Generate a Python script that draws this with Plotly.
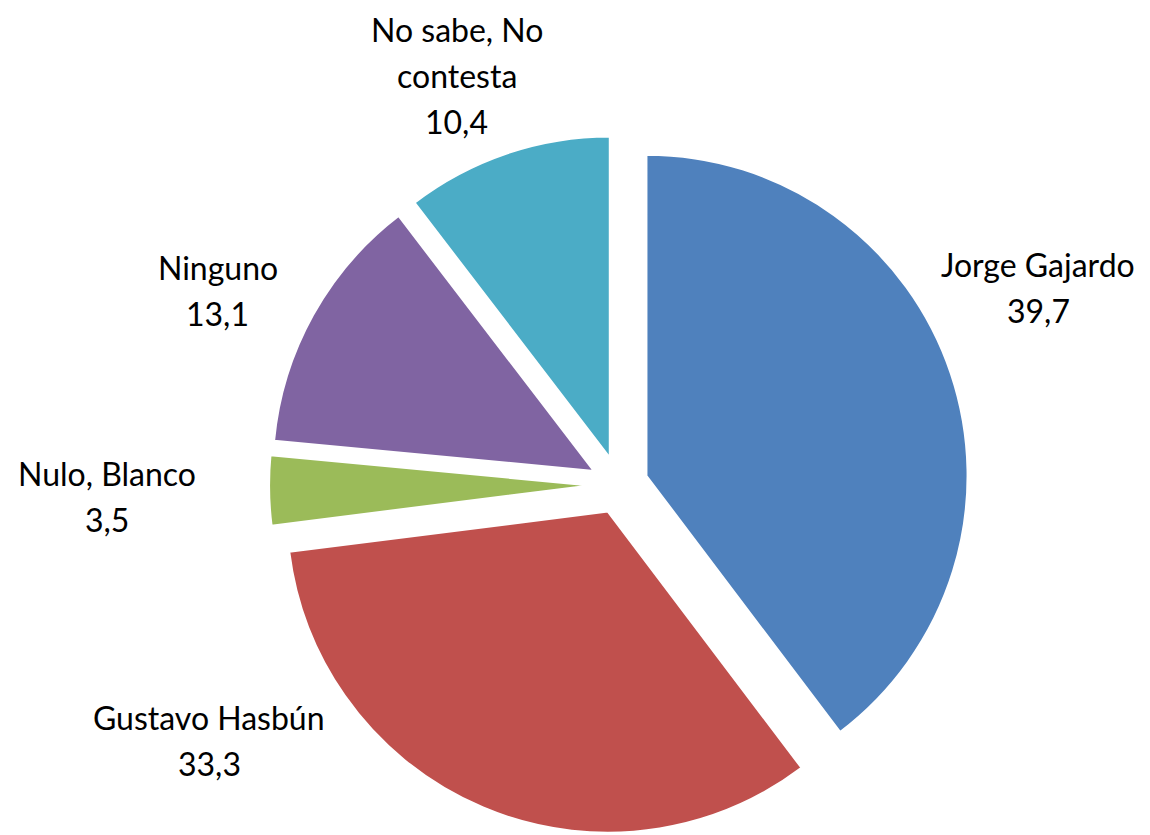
import plotly.graph_objects as go

# ── Data ──────────────────────────────────────────────────────────────────────
labels = ["Jorge Gajardo", "Gustavo Hasbún", "Nulo, Blanco", "Ninguno", "No sabe, No contesta"]
values = [39.7, 33.3, 3.5, 13.1, 10.4]
label_lines = [["Jorge Gajardo"], ["Gustavo Hasbún"], ["Nulo, Blanco"], ["Ninguno"], ["No sabe, No", "contesta"]]
colors = ["#4F81BD", "#C0504D", "#9BBB59", "#8064A2", "#4BACC6"]

# label block centres (paper coords), one per slice
label_pos = [(0.8957, 0.6677), (0.1748, 0.1257), (0.0865, 0.4168), (0.1826, 0.6641), (0.3904, 0.9210)]
LINE_GAP = 46  # px between text lines

fig = go.Figure()
fig.add_trace(go.Pie(
    labels=labels, values=values,
    sort=False, direction="clockwise", rotation=0,
    pull=[0.09] * len(values),
    marker=dict(colors=colors, line=dict(color="white", width=2)),
    textinfo="none", hoverinfo="label+value",
    domain=dict(x=[0.227, 0.8357], y=[0.0096, 0.848]),
    showlegend=False,
))

# ── Outside labels, one annotation per text line ──────────────────────────────
for lines, v, (px, py) in zip(label_lines, values, label_pos):
    rows = lines + [str(v).replace(".", ",")]
    n = len(rows)
    for i, row in enumerate(rows):
        fig.add_annotation(
            x=px, y=py, xref="paper", yref="paper",
            xanchor="center", yanchor="middle",
            yshift=((n - 1) / 2 - i) * LINE_GAP - 2,
            text=row, showarrow=False,
            font=dict(size=32, color="black", family="Lato, sans-serif"),
        )

fig.update_layout(
    width=1150, height=835,
    margin=dict(l=0, r=0, t=0, b=0),
    paper_bgcolor="white", plot_bgcolor="white",
)

fig.write_html("out.html")
